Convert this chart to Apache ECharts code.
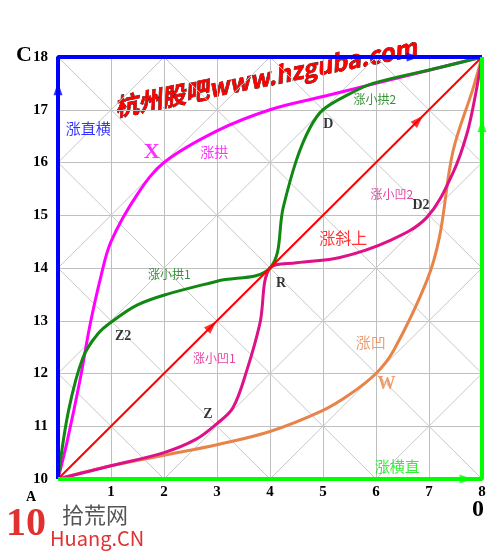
<!DOCTYPE html>
<html><head><meta charset="utf-8">
<script src="https://cdn.jsdelivr.net/npm/echarts@6/dist/echarts.min.js"></script>
<style>html,body{margin:0;padding:0;background:#fff}#main{width:498px;height:557px}</style>
</head><body><div id="main"></div>
<script>
// 各条走势线的数据 [x, y]
var zhangZhiHeng = [[0, 10], [0, 18], [8, 18]];          // 涨直横
var zhangHengZhi = [[0, 10], [8, 10], [8, 18]];          // 涨横直
var zhangXieShang = [[0, 10], [8, 18]];                  // 涨斜上
var zhangGong = [[0,10],[0.17,10.7],[0.42,11.9],[0.6,12.9],[0.8,13.8],[1,14.5],[1.5,15.4],[2,16],[3,16.6],[4,17],[5,17.25],[6,17.5],[7,17.75],[8,18]];
var zhangXiaoGong = [[0,10],[0.2,11.3],[0.47,12.3],[0.75,12.75],[1.04,13.0],[1.5,13.3],[2.05,13.5],[3,13.75],[4,14],[4.25,15.15],[4.5,16.05],[4.75,16.65],[5,17.0],[5.5,17.3],[5.94,17.5],[7.2,17.8],[8,18]];
var zhangXiaoAo = [[0,10],[1,10.25],[2,10.5],[2.6,10.75],[3,11.05],[3.3,11.35],[3.56,12.05],[3.81,12.95],[4,14],[4.5,14.1],[5.32,14.2],[6.26,14.52],[6.96,14.96],[7.45,15.8],[7.72,16.56],[7.88,17.3],[8,18]];
var zhangAo = [[0,10],[1,10.25],[2,10.45],[3,10.65],[4,10.9],[5,11.3],[5.5,11.6],[6,12],[6.33,12.43],[6.96,13.76],[7.2,14.6],[7.45,16.2],[7.83,17.4],[8,18]];
// 箭头位置 [x, y, 角度, 颜色]
var arrows = [[0,17.4,0,'#0000ff'],[6.7,18,-90,'#0000ff'],[7.7,10,-90,'#00ff00'],[8,16.7,0,'#00ff00'],[2.9,12.9,-45,'#ff0000'],[6.8,16.8,-45,'#ff0000']];
// 标注文字 [x, y, 文字, 颜色, 字号, 粗体]
var notes = [
  [0.57,16.65,'涨直横','#0000ff',15,false],[1.77,16.2,'X','#ff00ff',22,true],[2.95,16.2,'涨拱','#ff00ff',14,false],
  [2.1,13.88,'涨小拱1','#007700',12,false],[1.23,12.7,'Z2','#000',14,true],[2.95,12.28,'涨小凹1','#dd1188',12,false],
  [2.83,11.23,'Z','#000',14,true],[4.21,13.7,'R','#000',14,true],[5.38,14.57,'涨斜上','#ff0000',16,false],
  [6.3,15.4,'涨小凹2','#dd1188',12,false],[6.85,15.18,'D2','#000',14,true],[5.1,16.73,'D','#000',14,true],
  [5.98,17.2,'涨小拱2','#007700',12,false],[5.9,12.6,'涨凹','#e8844a',15,false],[6.2,11.8,'W','#e8844a',18,true],
  [6.4,10.25,'涨横直','#00ee00',15,false],[7.87,18.35,'P','#000',18,true]
];
var xTicks = [1,2,3,4,5,6,7,8];

// 网格里的斜线
var diag = [];
for (var c = 10; c <= 26; c += 2) {
  var pts = [];
  for (var x = 0; x <= 8; x++) { var y = c - x; if (y >= 10 && y <= 18) pts.push([x, y]); }
  if (pts.length > 1) diag.push([pts[0], pts[pts.length - 1]]);
}
for (var d = 2; d <= 18; d += 2) {
  var pts2 = [];
  for (var x2 = 0; x2 <= 8; x2++) { var y2 = x2 + d; if (y2 >= 10 && y2 <= 18) pts2.push([x2, y2]); }
  if (pts2.length > 1) diag.push([pts2[0], pts2[pts2.length - 1]]);
}

var serif = '"Liberation Serif","DejaVu Serif",serif';
var cjk = '"Noto Sans CJK SC",sans-serif';
var myChart = echarts.init(document.getElementById('main'));

var line = function (data, color, w, z) {
  return { type: 'line', data: data, symbol: 'none', smooth: data.length > 3 ? 0.35 : false,
    lineStyle: { color: color, width: w }, z: z, silent: true };
};

var series = [];
diag.forEach(function (seg) {
  series.push({ type: 'line', data: seg, symbol: 'none', lineStyle: { color: '#c8c8c8', width: 1 }, z: 1, silent: true });
});
series.push(line(zhangAo, '#e8844a', 3, 3));
series.push(line(zhangXiaoAo, '#dd1188', 3, 4));
series.push(line(zhangGong, '#ff00ff', 3, 4));
series.push(line(zhangXiaoGong, '#118811', 3, 5));
series.push(line(zhangXieShang, '#ff0000', 2, 5));
series.push(line(zhangZhiHeng, '#0000ff', 4, 6));
series.push(line(zhangHengZhi, '#00ff00', 4, 6));
series.push({ type: 'scatter', z: 7, silent: true,
  data: arrows.map(function (a) { return { value: [a[0], a[1]], symbolRotate: a[2], itemStyle: { color: a[3] } }; }),
  symbol: 'triangle', symbolSize: [9, 13] });
series.push({ type: 'scatter', z: 8, silent: true, symbolSize: 0,
  data: notes.map(function (n) {
    return { value: [n[0], n[1]], label: { show: true, position: 'inside', formatter: n[2], color: n[3], fontSize: n[4],
      fontWeight: n[5] ? 'bold' : 'normal', fontFamily: n[5] ? serif : cjk } };
  }) });

option = {
  backgroundColor: '#fff',
  animation: false,
  grid: { left: 58, right: 16, top: 57, bottom: 78 },
  xAxis: { type: 'value', min: 0, max: 8, interval: 1,
    axisLine: { show: false }, axisTick: { show: false },
    splitLine: { lineStyle: { color: '#c0c0c0' } },
    axisLabel: { color: '#000', fontFamily: serif, fontWeight: 'bold', fontSize: 15, margin: 6,
      formatter: function (v) { return xTicks.indexOf(v) >= 0 ? String(v) : ''; } } },
  yAxis: { type: 'value', min: 10, max: 18, interval: 1,
    axisLine: { show: false }, axisTick: { show: false },
    splitLine: { lineStyle: { color: '#c0c0c0' } },
    axisLabel: { color: '#000', fontFamily: serif, fontWeight: 'bold', fontSize: 15, margin: 10 } },
  graphic: [
    { type: 'text', left: 16, top: 44, style: { text: 'C', font: 'bold 22px ' + serif, fill: '#000' } },
    { type: 'text', left: 472, top: 498, style: { text: '0', font: 'bold 24px ' + serif, fill: '#000' } },
    { type: 'text', left: 26, top: 490, style: { text: 'A', font: 'bold 14px ' + serif, fill: '#000' } },
    { type: 'text', x: 112, y: 96, rotation: 0.2, style: { text: '杭州股吧www.hzguba.com', font: 'bold italic 24px ' + cjk, fill: '#ff0000', stroke: '#000', lineWidth: 0.6 } },
    { type: 'text', left: 6, top: 505, style: { text: '10', font: 'bold 40px ' + serif, fill: '#e03030' } },
    { type: 'text', left: 62, top: 504, style: { text: '拾荒网', font: '22px ' + cjk, fill: '#555' } },
    { type: 'text', left: 50, top: 528, style: { text: 'Huang.CN', font: '20px ' + cjk, fill: '#e03030' } }
  ],
  series: series
};
myChart.setOption(option);
</script></body></html>
